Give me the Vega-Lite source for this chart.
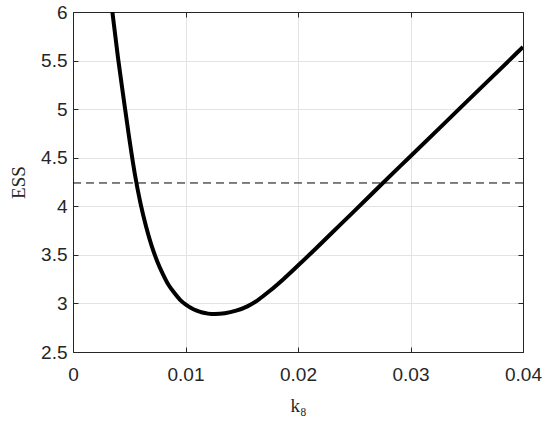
{
  "$schema": "https://vega.github.io/schema/vega-lite/v6.json",
  "width": 450,
  "height": 340,
  "autosize": "none",
  "padding": {"left": 73, "top": 12, "right": 27, "bottom": 69},
  "background": "white",
  "config": {
    "view": {"stroke": "#262626", "strokeWidth": 1},
    "axis": {
      "domainColor": "#262626",
      "tickColor": "#262626",
      "labelColor": "#262626",
      "labelFont": "Liberation Sans",
      "labelFontSize": 19,
      "labelFlush": false,
      "titleFont": "Liberation Serif",
      "titleFontWeight": "normal",
      "titleFontSize": 19,
      "titleColor": "#262626",
      "gridColor": "#e3e3e3",
      "gridWidth": 1,
      "tickSize": -5
    }
  },
  "datasets": {
    "curve": [
      {"k8": 0.0035, "ESS": 6.0},
      {"k8": 0.0040, "ESS": 5.53},
      {"k8": 0.0045, "ESS": 5.11},
      {"k8": 0.0050, "ESS": 4.70},
      {"k8": 0.0055, "ESS": 4.33},
      {"k8": 0.0060, "ESS": 4.03},
      {"k8": 0.0065, "ESS": 3.79},
      {"k8": 0.0070, "ESS": 3.59},
      {"k8": 0.0075, "ESS": 3.43},
      {"k8": 0.0080, "ESS": 3.30},
      {"k8": 0.0085, "ESS": 3.19},
      {"k8": 0.0090, "ESS": 3.11},
      {"k8": 0.0095, "ESS": 3.04},
      {"k8": 0.0100, "ESS": 2.99},
      {"k8": 0.0105, "ESS": 2.953},
      {"k8": 0.0110, "ESS": 2.925},
      {"k8": 0.0115, "ESS": 2.906},
      {"k8": 0.0120, "ESS": 2.895},
      {"k8": 0.0126, "ESS": 2.89},
      {"k8": 0.0135, "ESS": 2.898},
      {"k8": 0.0145, "ESS": 2.925},
      {"k8": 0.0155, "ESS": 2.97},
      {"k8": 0.0165, "ESS": 3.04},
      {"k8": 0.0175, "ESS": 3.13},
      {"k8": 0.0187, "ESS": 3.25},
      {"k8": 0.0200, "ESS": 3.39},
      {"k8": 0.0215, "ESS": 3.555},
      {"k8": 0.0230, "ESS": 3.725},
      {"k8": 0.0250, "ESS": 3.95},
      {"k8": 0.0275, "ESS": 4.235},
      {"k8": 0.0300, "ESS": 4.515},
      {"k8": 0.0344, "ESS": 5.01},
      {"k8": 0.0388, "ESS": 5.505},
      {"k8": 0.0400, "ESS": 5.64}
    ],
    "threshold": [{"x0": 0, "x1": 0.04, "level": 4.24}]
  },
  "layer": [
    {
      "data": {"name": "curve"},
      "mark": {"type": "line", "color": "black", "strokeWidth": 4, "clip": true, "interpolate": "monotone"},
      "encoding": {
        "x": {
          "field": "k8", "type": "quantitative",
          "scale": {"domain": [0, 0.04], "nice": false, "zero": false},
          "axis": {"orient": "bottom", "title": "k₈", "values": [0, 0.01, 0.02, 0.03, 0.04], "format": "~g", "labelPadding": 18, "titlePadding": 12, "grid": true}
        },
        "y": {
          "field": "ESS", "type": "quantitative",
          "scale": {"domain": [2.5, 6], "nice": false, "zero": false},
          "axis": {"orient": "left", "title": "ESS", "values": [2.5, 3, 3.5, 4, 4.5, 5, 5.5, 6], "format": "~g", "labelPadding": 11, "titlePadding": 12, "grid": true}
        }
      }
    },
    {
      "data": {"name": "threshold"},
      "mark": {"type": "rule", "color": "black", "strokeWidth": 1, "strokeDash": [8, 5]},
      "encoding": {
        "x": {"field": "x0", "type": "quantitative", "axis": {"orient": "top", "labels": false, "title": null, "grid": false, "values": [0, 0.01, 0.02, 0.03, 0.04]}},
        "x2": {"field": "x1"},
        "y": {"field": "level", "type": "quantitative", "axis": {"orient": "right", "labels": false, "title": null, "grid": false, "values": [2.5, 3, 3.5, 4, 4.5, 5, 5.5, 6]}}
      }
    }
  ],
  "resolve": {"axis": {"x": "independent", "y": "independent"}}
}
